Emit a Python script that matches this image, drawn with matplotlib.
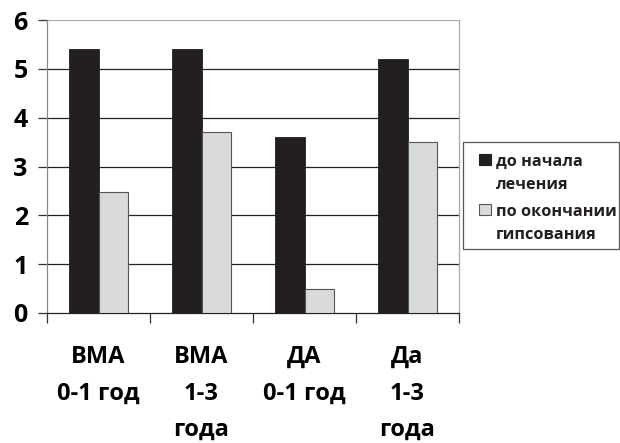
import matplotlib
matplotlib.use("Agg")
import matplotlib.pyplot as plt
from matplotlib.patches import Rectangle
import numpy as np

categories = ["ВМА\n0-1 год", "ВМА\n1-3\nгода", "ДА\n0-1 год", "Да\n1-3\nгода"]
before = [5.4, 5.4, 3.6, 5.2]
after = [2.47, 3.7, 0.5, 3.5]
series_names = ["до начала\nлечения", "по окончании\nгипсования"]
series_colors = ["#231f20", "#d9dadb"]
series_edges = ["#231f20", "#555555"]
yticks = [0, 1, 2, 3, 4, 5, 6]

plt.rcParams['font.family'] = ['Open Sans', 'DejaVu Sans']
plt.rcParams['font.weight'] = 'bold'

W, H = 620, 443
fig = plt.figure(figsize=(W/100, H/100), dpi=100)
ax = fig.add_axes([47/W, 1-313/H, (459-47)/W, (313-20)/H])

x = np.arange(len(categories))
w = 0.29
ax.bar(x - w/2, before, w, color=series_colors[0], edgecolor=series_edges[0], linewidth=0.6, zorder=3)
ax.bar(x + w/2, after, w, color=series_colors[1], edgecolor=series_edges[1], linewidth=0.8, zorder=3)

ax.set_xlim(-0.5, 3.5)
ax.set_ylim(0, 6)
ax.set_yticks(yticks)
ax.set_yticklabels([str(v) for v in yticks], fontsize=18, fontweight='bold')
for v in yticks[1:-1]:
    ax.axhline(v, color="#222222", linewidth=0.9, zorder=1)
ax.axhline(6, color="#aaaaaa", linewidth=0.9, zorder=1)

ax.set_xticks(x)
ax.set_xticklabels(categories, fontsize=17, fontweight='bold', linespacing=1.7, va='top')
ax.tick_params(axis='x', which='major', length=0, pad=23)
ax.set_xticks(np.arange(-0.5, 4.0, 1.0), minor=True)
ax.tick_params(axis='x', which='minor', length=7.5, width=0.9, color="#333333", direction='out')
ax.tick_params(axis='y', length=6.8, width=0.9, color="#333333", pad=7)

ax.spines['top'].set_visible(False)
ax.spines['right'].set_color("#aaaaaa")
ax.spines['right'].set_linewidth(0.9)
ax.spines['left'].set_color("#888888")
ax.spines['left'].set_linewidth(0.9)
ax.spines['bottom'].set_color("#222222")
ax.spines['bottom'].set_linewidth(0.9)

# manual legend (pixel layout)
def fx(px):
    return px / W
def fy(py):
    return 1 - py / H

fig.patches.append(Rectangle((fx(463), fy(249)), fx(619) - fx(463), fy(142) - fy(249),
                             transform=fig.transFigure, facecolor='white',
                             edgecolor="#555555", linewidth=0.9))
entry_top = [154, 204]
baselines = [[166, 189], [216, 239]]
for i, name in enumerate(series_names):
    fig.patches.append(Rectangle((fx(479), fy(entry_top[i] + 11)), fx(491) - fx(479), fy(entry_top[i]) - fy(entry_top[i] + 11),
                                 transform=fig.transFigure, facecolor=series_colors[i],
                                 edgecolor=series_edges[i], linewidth=0.8))
    for j, line in enumerate(name.split("\n")):
        fig.text(fx(496), fy(baselines[i][j]), line, fontsize=11.7, fontweight='bold',
                 ha='left', va='baseline', color='#231f20')

fig.savefig("out.png", dpi=100)
